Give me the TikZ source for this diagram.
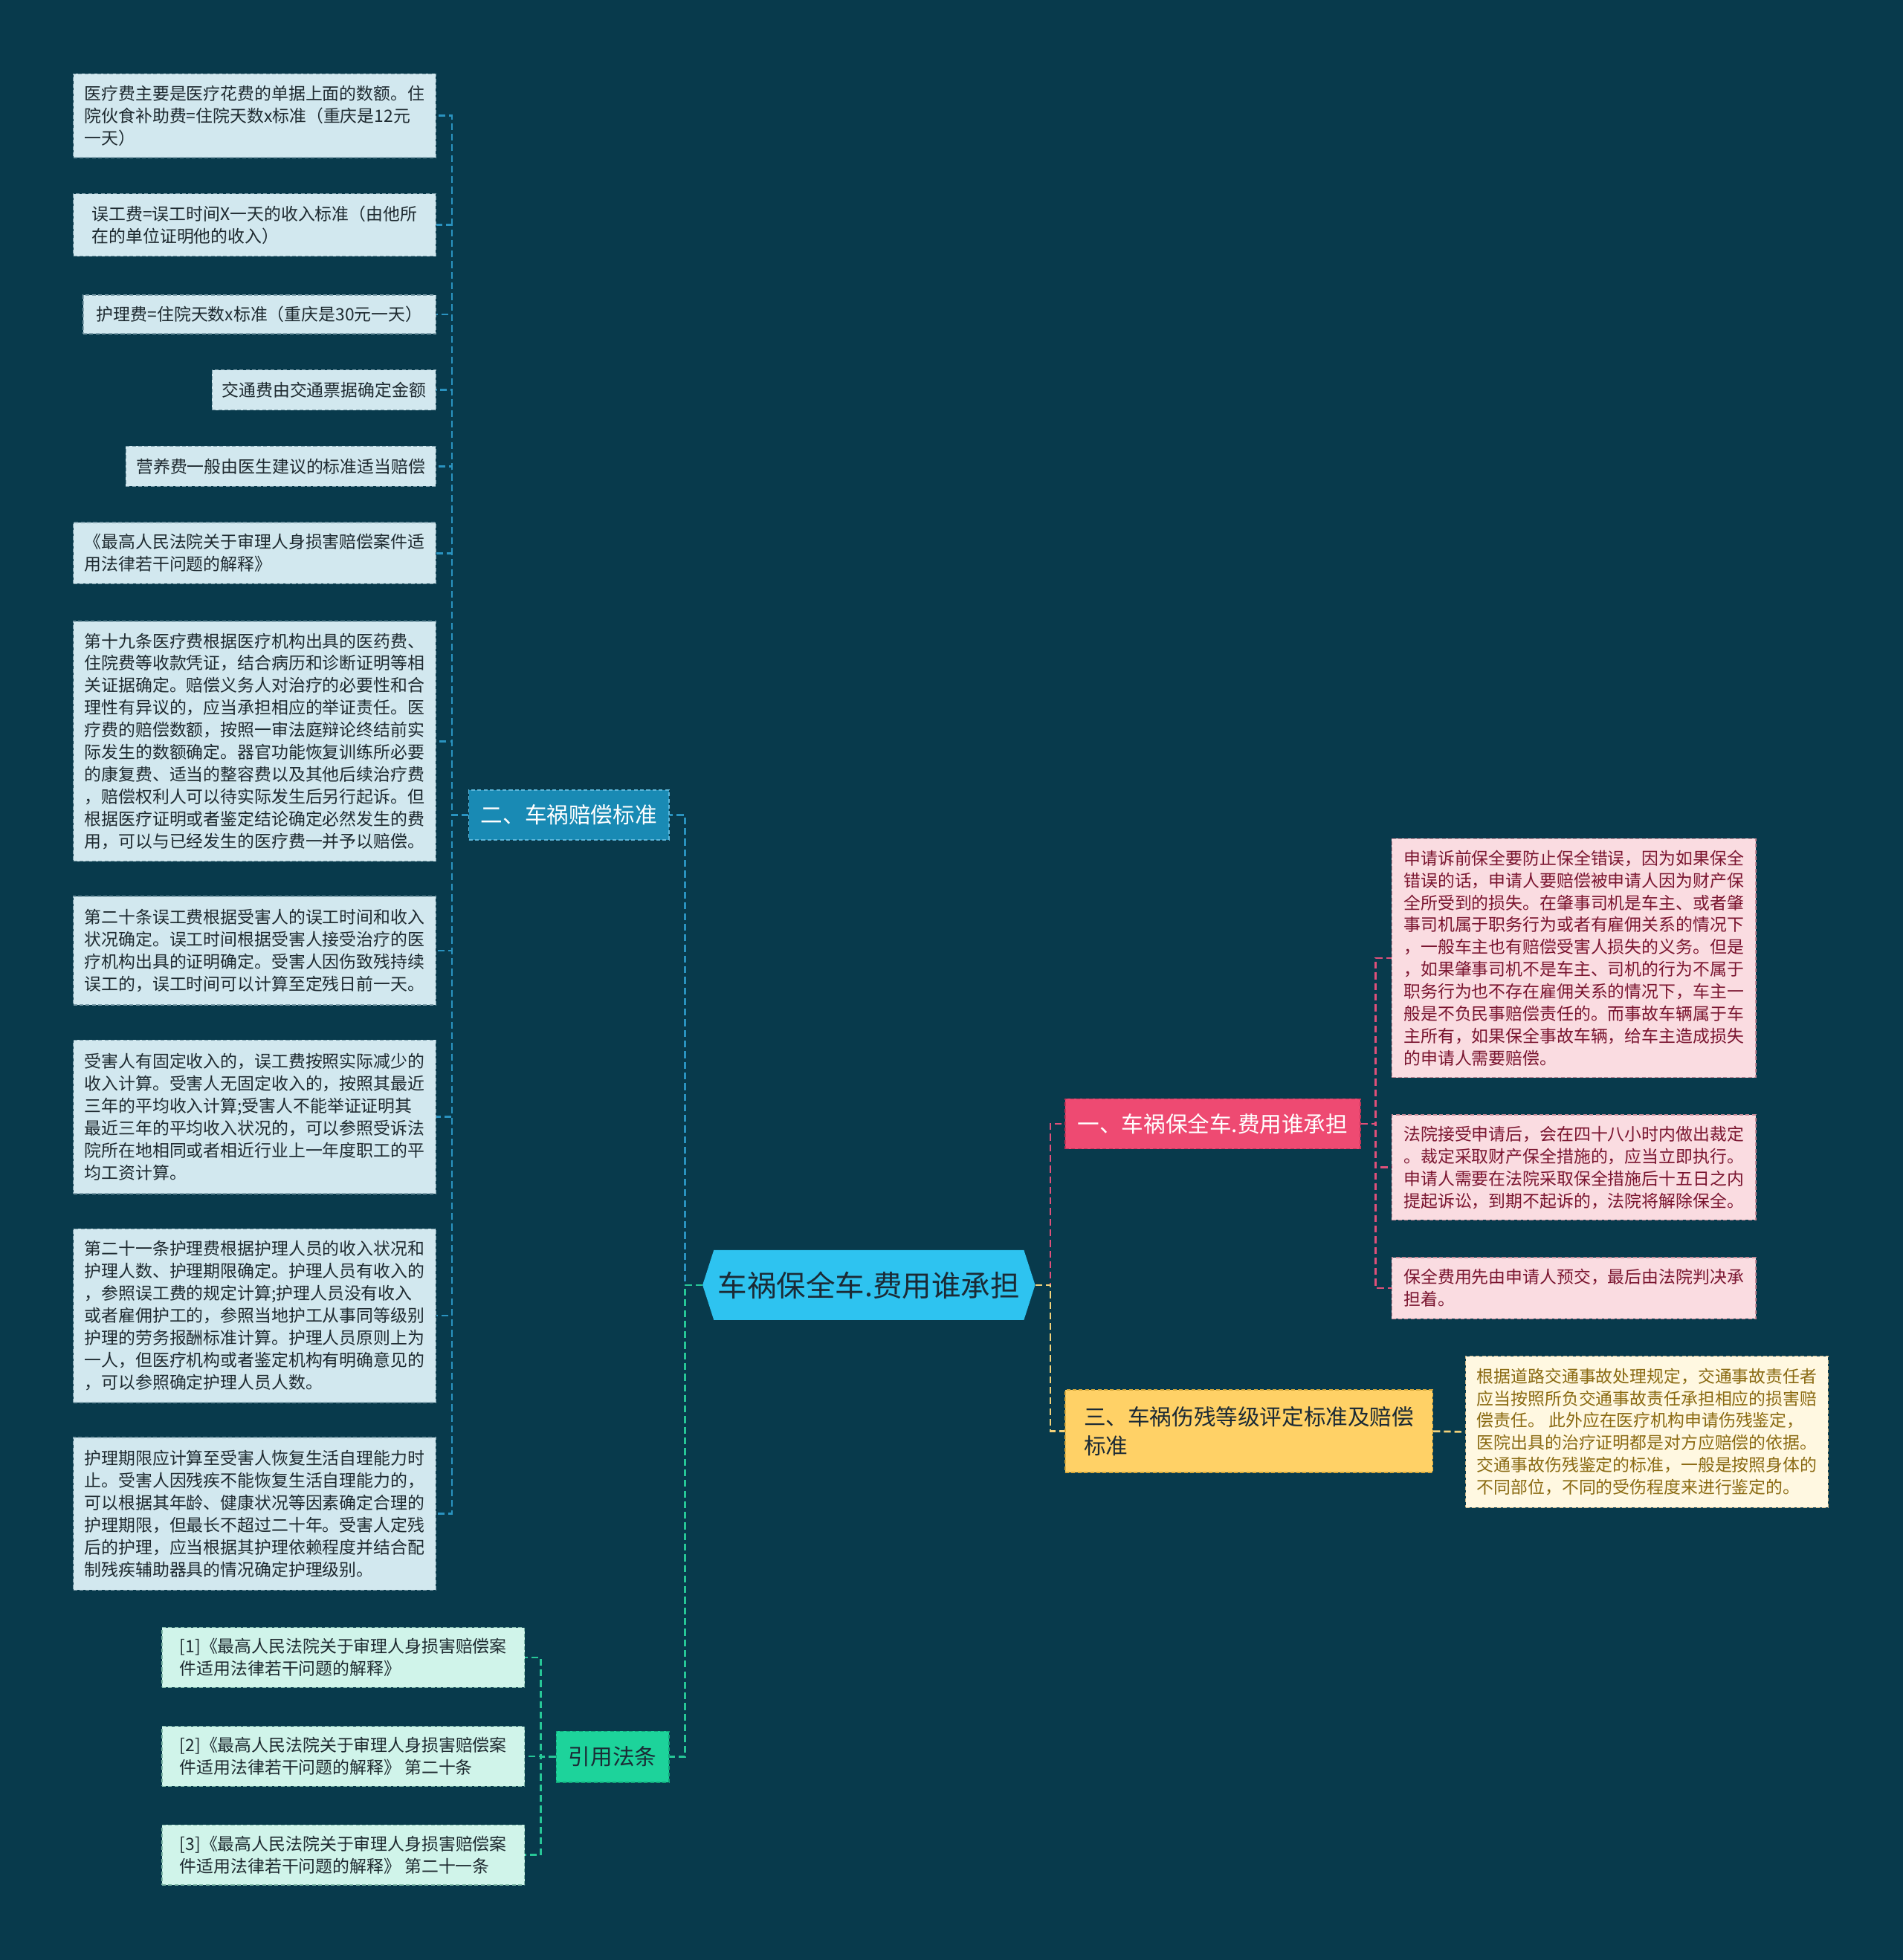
\documentclass[tikz,border=0pt]{standalone}
\usepackage{fontspec}
\setmainfont{Noto Sans CJK SC}
\definecolor{bgc}{HTML}{083A4C}
\definecolor{cfill}{HTML}{2EC3F0}
\definecolor{ctext}{HTML}{1B2A35}
\definecolor{bfill}{HTML}{198AB4}
\definecolor{bdraw}{HTML}{5DB6DA}
\definecolor{bleafc}{HTML}{D2E8EF}
\definecolor{bleafd}{HTML}{7E9FAC}
\definecolor{leaftext}{HTML}{1E2A30}
\definecolor{bline}{HTML}{2A93C0}
\definecolor{gfill}{HTML}{1DD39B}
\definecolor{gdraw}{HTML}{12A679}
\definecolor{gleafc}{HTML}{D0F4EA}
\definecolor{gleafd}{HTML}{7FB8A8}
\definecolor{gline}{HTML}{27C797}
\definecolor{pfill}{HTML}{EE4A72}
\definecolor{pdraw}{HTML}{C43358}
\definecolor{pleafc}{HTML}{FADCE1}
\definecolor{pleafd}{HTML}{C98C99}
\definecolor{pleaft}{HTML}{7A1530}
\definecolor{pline}{HTML}{E0507A}
\definecolor{yfill}{HTML}{FFD166}
\definecolor{ydraw}{HTML}{D9A93A}
\definecolor{yleafc}{HTML}{FFF8E1}
\definecolor{yleafd}{HTML}{CDB98A}
\definecolor{yleaft}{HTML}{8A6A12}
\definecolor{yline}{HTML}{F3D27A}
\tikzset{
  leafbox/.style={inner xsep=7pt, inner ysep=3pt, align=left,
    font=\fontsize{13.6}{17.8}\selectfont, dash pattern=on 3pt off 2pt, line width=0.8pt},
  bleaf/.style={leafbox, fill=bleafc, draw=bleafd, text=leaftext, anchor=east},
  gleaf/.style={leafbox, fill=gleafc, draw=gleafd, text=leaftext, anchor=east},
  pleaf/.style={leafbox, fill=pleafc, draw=pleafd, text=pleaft, anchor=west},
  yleaf/.style={leafbox, fill=yleafc, draw=yleafd, text=yleaft, anchor=west},
  branchbox/.style={inner xsep=8pt, inner ysep=3pt, align=left,
    font=\fontsize{17.6}{23}\selectfont, dash pattern=on 3pt off 2pt, line width=0.9pt},
  conn/.style={line width=1.6pt, dash pattern=on 5.5pt off 3pt},
}
\begin{document}
\begin{tikzpicture}[x=1pt,y=-1pt]
\fill[bgc] (0,0) rectangle (1522,1568);
\useasboundingbox (0,0) rectangle (1522,1568);

% central node
\fill[cfill] (562,1028) -- (571,1000) -- (819,1000) -- (828,1028) -- (819,1056) -- (571,1056) -- cycle;
\node[minimum width=266pt, minimum height=56pt, inner sep=0pt, text=ctext,
  font=\fontsize{23.5}{28}\selectfont] (c) at (695,1028) {车祸保全车.费用谁承担};

% branches
\node[branchbox, fill=bfill, draw=bdraw, text=white, minimum width=160pt, minimum height=40pt] (b2) at (455,652) {二、车祸赔偿标准};
\node[branchbox, fill=gfill, draw=gdraw, text=ctext, minimum width=90pt, minimum height=41pt] (b4) at (490,1405.5) {引用法条};
\node[branchbox, fill=pfill, draw=pdraw, text=white, minimum width=236pt, minimum height=40pt] (b1) at (970,899) {一、车祸保全车.费用谁承担};
\node[branchbox, fill=yfill, draw=ydraw, text=ctext, minimum width=294pt, minimum height=66pt] (b3) at (999,1145) {三、车祸伤残等级评定标准及赔偿\\标准};

% left leaves (二)
\node[bleaf, minimum width=290pt, minimum height=67pt] (l1) at (349,92.5) {医疗费主要是医疗花费的单据上面的数额。住\\院伙食补助费=住院天数x标准（重庆是12元\\一天）};
\node[bleaf, minimum width=290pt, minimum height=50pt] (l2) at (349,180) {误工费=误工时间X一天的收入标准（由他所\\在的单位证明他的收入）};
\node[bleaf, minimum width=282pt, minimum height=31pt] (l3) at (349,251.5) {护理费=住院天数x标准（重庆是30元一天）};
\node[bleaf, minimum width=179pt, minimum height=32pt] (l4) at (349,312) {交通费由交通票据确定金额};
\node[bleaf, minimum width=248pt, minimum height=32pt] (l5) at (349,373) {营养费一般由医生建议的标准适当赔偿};
\node[bleaf, minimum width=290pt, minimum height=49pt] (l6) at (349,442.5) {《最高人民法院关于审理人身损害赔偿案件适\\用法律若干问题的解释》};
\node[bleaf, minimum width=290pt, minimum height=192pt] (l7) at (349,593) {第十九条医疗费根据医疗机构出具的医药费、\\住院费等收款凭证，结合病历和诊断证明等相\\关证据确定。赔偿义务人对治疗的必要性和合\\理性有异议的，应当承担相应的举证责任。医\\疗费的赔偿数额，按照一审法庭辩论终结前实\\际发生的数额确定。器官功能恢复训练所必要\\的康复费、适当的整容费以及其他后续治疗费\\，赔偿权利人可以待实际发生后另行起诉。但\\根据医疗证明或者鉴定结论确定必然发生的费\\用，可以与已经发生的医疗费一并予以赔偿。};
\node[bleaf, minimum width=290pt, minimum height=87pt] (l8) at (349,760.5) {第二十条误工费根据受害人的误工时间和收入\\状况确定。误工时间根据受害人接受治疗的医\\疗机构出具的证明确定。受害人因伤致残持续\\误工的，误工时间可以计算至定残日前一天。};
\node[bleaf, minimum width=290pt, minimum height=123pt] (l9) at (349,893.5) {受害人有固定收入的，误工费按照实际减少的\\收入计算。受害人无固定收入的，按照其最近\\三年的平均收入计算;受害人不能举证证明其\\最近三年的平均收入状况的，可以参照受诉法\\院所在地相同或者相近行业上一年度职工的平\\均工资计算。};
\node[bleaf, minimum width=290pt, minimum height=139pt] (l10) at (349,1052.5) {第二十一条护理费根据护理人员的收入状况和\\护理人数、护理期限确定。护理人员有收入的\\，参照误工费的规定计算;护理人员没有收入\\或者雇佣护工的，参照当地护工从事同等级别\\护理的劳务报酬标准计算。护理人员原则上为\\一人，但医疗机构或者鉴定机构有明确意见的\\，可以参照确定护理人员人数。};
\node[bleaf, minimum width=290pt, minimum height=122pt] (l11) at (349,1211) {护理期限应计算至受害人恢复生活自理能力时\\止。受害人因残疾不能恢复生活自理能力的，\\可以根据其年龄、健康状况等因素确定合理的\\护理期限，但最长不超过二十年。受害人定残\\后的护理，应当根据其护理依赖程度并结合配\\制残疾辅助器具的情况确定护理级别。};

% reference leaves
\node[gleaf, minimum width=290pt, minimum height=48pt] (r1) at (420,1326) {[1]《最高人民法院关于审理人身损害赔偿案\\件适用法律若干问题的解释》};
\node[gleaf, minimum width=290pt, minimum height=48pt] (r2) at (420,1405) {[2]《最高人民法院关于审理人身损害赔偿案\\件适用法律若干问题的解释》 第二十条};
\node[gleaf, minimum width=290pt, minimum height=48pt] (r3) at (420,1484) {[3]《最高人民法院关于审理人身损害赔偿案\\件适用法律若干问题的解释》 第二十一条};

% right leaves (一)
\node[pleaf, minimum width=291pt, minimum height=191pt] (p1) at (1113,766.5) {申请诉前保全要防止保全错误，因为如果保全\\错误的话，申请人要赔偿被申请人因为财产保\\全所受到的损失。在肇事司机是车主、或者肇\\事司机属于职务行为或者有雇佣关系的情况下\\，一般车主也有赔偿受害人损失的义务。但是\\，如果肇事司机不是车主、司机的行为不属于\\职务行为也不存在雇佣关系的情况下，车主一\\般是不负民事赔偿责任的。而事故车辆属于车\\主所有，如果保全事故车辆，给车主造成损失\\的申请人需要赔偿。};
\node[pleaf, minimum width=291pt, minimum height=84pt] (p2) at (1113,934) {法院接受申请后，会在四十八小时内做出裁定\\。裁定采取财产保全措施的，应当立即执行。\\申请人需要在法院采取保全措施后十五日之内\\提起诉讼，到期不起诉的，法院将解除保全。};
\node[pleaf, minimum width=291pt, minimum height=49pt] (p3) at (1113,1030.5) {保全费用先由申请人预交，最后由法院判决承\\担着。};

% right leaf (三)
\node[yleaf, minimum width=290pt, minimum height=121pt] (y1) at (1172,1145.5) {根据道路交通事故处理规定，交通事故责任者\\应当按照所负交通事故责任承担相应的损害赔\\偿责任。 此外应在医疗机构申请伤残鉴定，\\医院出具的治疗证明都是对方应赔偿的依据。\\交通事故伤残鉴定的标准，一般是按照身体的\\不同部位，不同的受伤程度来进行鉴定的。};

% connectors: central to branches
\draw[conn, bline] (c.west) -- ++(-14,0) |- (b2.east);
\draw[conn, gline] (c.west) -- ++(-14,0) |- (b4.east);
\draw[conn, pline] (c.east) -- ++(12,0) |- (b1.west);
\draw[conn, yline] (c.east) -- ++(12,0) |- (b3.west);

% 二 to leaves
\foreach \n in {l1,l2,l3,l4,l5,l6,l7,l8,l9,l10,l11}
  \draw[conn, bline] (b2.west) -- ++(-13,0) |- (\n.east);
% 引用法条 to references
\foreach \n in {r1,r2,r3}
  \draw[conn, gline] (b4.west) -- ++(-12,0) |- (\n.east);
% 一 to leaves
\foreach \n in {p1,p2,p3}
  \draw[conn, pline] (b1.east) -- ++(12,0) |- (\n.west);
% 三 to leaf
\draw[conn, yline] (b3.east) -- (y1.west);
\end{tikzpicture}
\end{document}
